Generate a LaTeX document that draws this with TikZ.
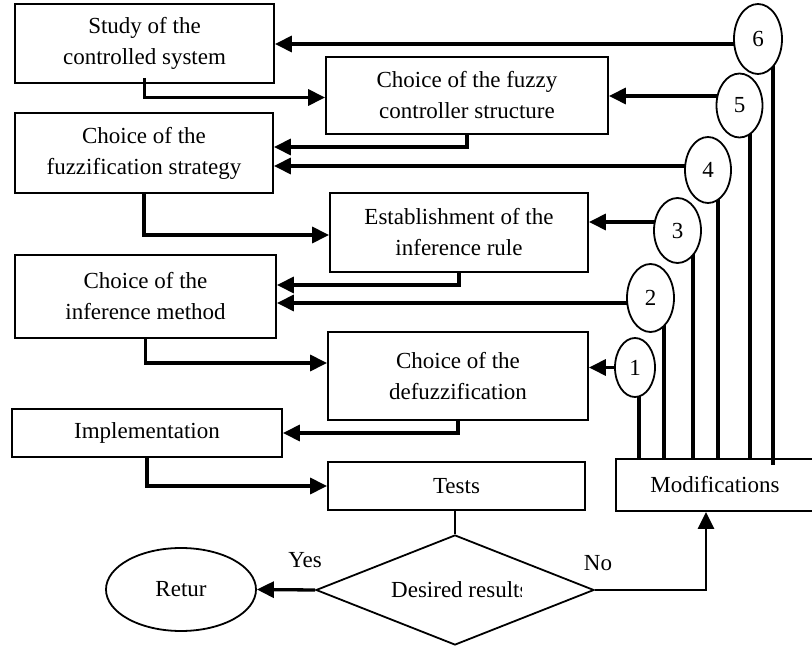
\documentclass[tikz,border=0pt]{standalone}
\usepackage{fontspec}
\setmainfont{Liberation Serif}
\usetikzlibrary{arrows.meta,shapes.geometric,calc,backgrounds}

\begin{document}
\begin{tikzpicture}[x=1pt,y=-1pt,
  every node/.style={font=\fontsize{23}{31}\selectfont},
  box/.style={draw, line width=1.8pt, rectangle, inner sep=0pt, align=center},
  num/.style={draw, ellipse, line width=1.8pt, fill=white, inner sep=0pt},
  conn/.style={line width=3.3pt},
  thinconn/.style={line width=2.4pt},
  tip/.style={-{Triangle[length=17pt,width=16pt]}},
  arr/.style={conn, tip},
]
\useasboundingbox (0,0) rectangle (812,647);

% process boxes
\node[box, minimum width=259pt, minimum height=79pt] (study)  at (144.5,43.5) {Study of the\\controlled system};
\node[box, minimum width=282pt, minimum height=77pt] (fcs)    at (467,95.5)   {Choice of the fuzzy\\controller structure};
\node[box, minimum width=258pt, minimum height=80pt] (fuzz)   at (144,153)    {Choice of the\\fuzzification strategy};
\node[box, minimum width=258pt, minimum height=79pt] (estab)  at (459,232.5)  {Establishment of the\\inference rule};
\node[box, minimum width=261pt, minimum height=83pt] (infer)  at (145.5,296.5){Choice of the\\inference method};
\node[box, minimum width=260pt, minimum height=88pt] (defuzz) at (458,376)    {Choice of the\\defuzzification};
\node[box, minimum width=270pt, minimum height=48pt] (impl)   at (147,433)    {Implementation};
\node[box, minimum width=257pt, minimum height=48pt] (tests)  at (456.5,486)  {Tests};
\node[box, minimum width=198pt, minimum height=52pt] (mods)   at (715,485)    {Modifications};

% modification paths
\node[num, minimum width=48pt, minimum height=70pt] (e6) at (758,39)    {6};
\node[num, minimum width=46pt, minimum height=64pt] (e5) at (739.5,105.5) {5};
\node[num, minimum width=46pt, minimum height=66pt] (e4) at (708,170)   {4};
\node[num, minimum width=47pt, minimum height=65pt] (e3) at (677.5,230.5) {3};
\node[num, minimum width=47pt, minimum height=68pt] (e2) at (650.5,298) {2};
\node[num, minimum width=40pt, minimum height=59pt] (e1) at (635,367.5) {1};

% decision and end
\node[draw, diamond, line width=1.8pt, inner sep=0pt, minimum width=278pt, minimum height=110pt] (dia) at (455,590) {};
\begin{scope}
  \clip (380,565) rectangle (521,615);
  \node[anchor=west, inner sep=0pt] (dtext) at (391,590) {Desired results};
\end{scope}
\node[draw, ellipse, line width=1.8pt, inner sep=0pt, minimum width=150pt, minimum height=83pt] (retur) at (181,589.5) {Retur};
\node (yes) at (305,560) {Yes};
\node (no)  at (598,563) {No};

% main flow
\draw[arr] ([yshift=6pt]study.south) |- ([yshift=-2pt]fcs.west);
\draw[arr] (fcs.south)   |- ([yshift=6pt]fuzz.east);
\draw[arr] (fuzz.south)  |- ([yshift=-2.5pt]estab.west);
\draw[arr] (estab.south) |- ([yshift=11.5pt]infer.east);
\draw[arr] (infer.south) |- ([yshift=13pt]defuzz.west);
\draw[arr] (defuzz.south)|- (impl.east);
\draw[arr] (impl.south)  |- (tests.west);
\draw[thinconn] ([xshift=-1.5pt]tests.south) -- (dia.north);
\draw[arr] (dia.west) -- (retur.east);
\draw[thinconn, tip] (dia.east) -| ([xshift=-9pt]mods.south);

% feedback from the modifications
\begin{scope}[on background layer]
  \draw[arr] ([yshift=-5pt]e6.center)  coordinate (h6) -- (h6 -| study.east);
  \draw[arr] ([yshift=9.5pt]e5.center) coordinate (h5) -- (h5 -| fcs.east);
  \draw[arr] ([yshift=4pt]e4.center)   coordinate (h4) -- (h4 -| fuzz.east);
  \draw[arr] ([yshift=8.5pt]e3.center) coordinate (h3) -- (h3 -| estab.east);
  \draw[arr] ([yshift=-5pt]e2.center)  coordinate (h2) -- (h2 -| infer.east);
  \draw[arr] (e1.center) -- (e1.center -| defuzz.east);

  \draw[conn] ([xshift=15pt]e6.center)   coordinate (v6) -- ($(v6 |- mods.north)+(0,7)$);
  \draw[conn] ([xshift=10.5pt]e5.center) coordinate (v5) -- (v5 |- mods.north);
  \draw[conn] ([xshift=10pt]e4.center)   coordinate (v4) -- (v4 |- mods.north);
  \draw[conn] ([xshift=15.5pt]e3.center) coordinate (v3) -- (v3 |- mods.north);
  \draw[conn] ([xshift=13.5pt]e2.center) coordinate (v2) -- (v2 |- mods.north);
  \draw[conn] ([xshift=4pt]e1.center)    coordinate (v1) -- (v1 |- mods.north);
\end{scope}
\end{tikzpicture}
\end{document}
